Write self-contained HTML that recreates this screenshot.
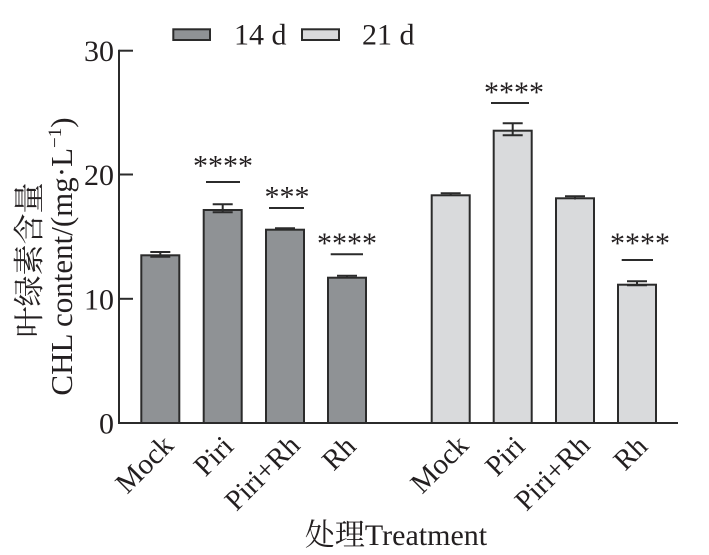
<!DOCTYPE html>
<html><head><meta charset="utf-8"><style>
html,body{margin:0;padding:0;background:#fff;}
svg{display:block;}
text{font-family:"Liberation Serif","Noto Serif CJK SC",serif;fill:#231f20;}
</style></head><body>
<svg width="709" height="555" viewBox="0 0 709 555" xmlns="http://www.w3.org/2000/svg">
<rect x="0" y="0" width="709" height="555" fill="#fff"/>
<!-- legend -->
<rect x="173.3" y="29.3" width="36.7" height="10.7" fill="#8f9295" stroke="#2b2b2b" stroke-width="2"/>
<text x="234" y="44.5" font-size="30">14 d</text>
<rect x="302" y="29.3" width="37" height="10.7" fill="#d9dadc" stroke="#2b2b2b" stroke-width="2"/>
<text x="362" y="44.5" font-size="30">21 d</text>

<!-- bars left group -->
<g stroke="#2b2b2b" stroke-width="2">
<rect x="141.3" y="255.3" width="38" height="167.7" fill="#8f9295"/>
<rect x="203.7" y="210" width="38" height="213" fill="#8f9295"/>
<rect x="266" y="229.7" width="38" height="193.3" fill="#8f9295"/>
<rect x="328" y="277.7" width="38" height="145.3" fill="#8f9295"/>
<rect x="431.7" y="195.3" width="38" height="227.7" fill="#d9dadc"/>
<rect x="493.7" y="130.7" width="38" height="292.3" fill="#d9dadc"/>
<rect x="556" y="198.3" width="38" height="224.7" fill="#d9dadc"/>
<rect x="618" y="284.7" width="38" height="138.3" fill="#d9dadc"/>
</g>

<!-- error bars -->
<g stroke="#2b2b2b" stroke-width="2" fill="none">
<path d="M160.3 252V256.7 M150.3 252H170.3 M150.3 256.7H170.3"/>
<path d="M222.7 204.3V212.3 M212.7 204.3H232.7 M212.7 212.3H232.7"/>
<path d="M285 228.3V230 M275 228.3H295"/>
<path d="M347 275.7V278 M337 275.7H357"/>
<path d="M450.7 193.3V196 M440.7 193.3H460.7"/>
<path d="M512.7 123.3V135.3 M502.7 123.3H522.7 M502.7 135.3H522.7"/>
<path d="M575 196.3V199.5 M565 196.3H585"/>
<path d="M637 281.3V285.3 M627 281.3H647 M627 285.3H647"/>
</g>

<!-- significance -->
<g stroke="#2b2b2b" stroke-width="2">
<line x1="206" y1="182" x2="240" y2="182"/>
<line x1="269" y1="208" x2="304" y2="208"/>
<line x1="330.7" y1="254.3" x2="363" y2="254.3"/>
<line x1="491" y1="103" x2="529" y2="103"/>
<line x1="621.7" y1="260" x2="653" y2="260"/>
</g>
<g font-size="30" text-anchor="middle">
<text x="223" y="175.7">****</text>
<text x="287" y="206.5">***</text>
<text x="347" y="253">****</text>
<text x="514" y="102">****</text>
<text x="640" y="253">****</text>
</g>

<!-- axes -->
<g stroke="#2b2b2b" stroke-width="2" fill="none">
<line x1="119" y1="49.7" x2="119" y2="424"/>
<line x1="118" y1="423" x2="678" y2="423"/>
<line x1="119" y1="50.7" x2="133" y2="50.7"/>
<line x1="119" y1="174.5" x2="133" y2="174.5"/>
<line x1="119" y1="298.8" x2="133" y2="298.8"/>
</g>
<g font-size="30" text-anchor="end">
<text x="114" y="61.2">30</text>
<text x="114" y="185">20</text>
<text x="114" y="309.3">10</text>
<text x="114" y="433.5">0</text>
</g>

<!-- y title -->
<text transform="translate(40,260) rotate(-90)" text-anchor="middle" font-size="31" style="font-family:'Noto Serif CJK SC',serif">叶绿素含量</text>
<text transform="translate(72,256.5) rotate(-90)" text-anchor="middle" font-size="31">CHL content/(mg·L<tspan dy="-11" font-size="19">−1</tspan><tspan dy="11">)</tspan></text>

<!-- x labels -->
<g font-size="29" text-anchor="end">
<text transform="translate(175,447) rotate(-45)">Mock</text>
<text transform="translate(235,448) rotate(-45)">Piri</text>
<text transform="translate(301.5,447) rotate(-45)">Piri+Rh</text>
<text transform="translate(357.5,448) rotate(-45)">Rh</text>
<text transform="translate(470,447) rotate(-45)">Mock</text>
<text transform="translate(526.5,448) rotate(-45)">Piri</text>
<text transform="translate(591.5,447) rotate(-45)">Piri+Rh</text>
<text transform="translate(649,448) rotate(-45)">Rh</text>
</g>

<!-- x title -->
<text x="396" y="545" text-anchor="middle" font-size="30"><tspan style="font-family:'Noto Serif CJK SC',serif">处理</tspan>Treatment</text>
</svg>
</body></html>
